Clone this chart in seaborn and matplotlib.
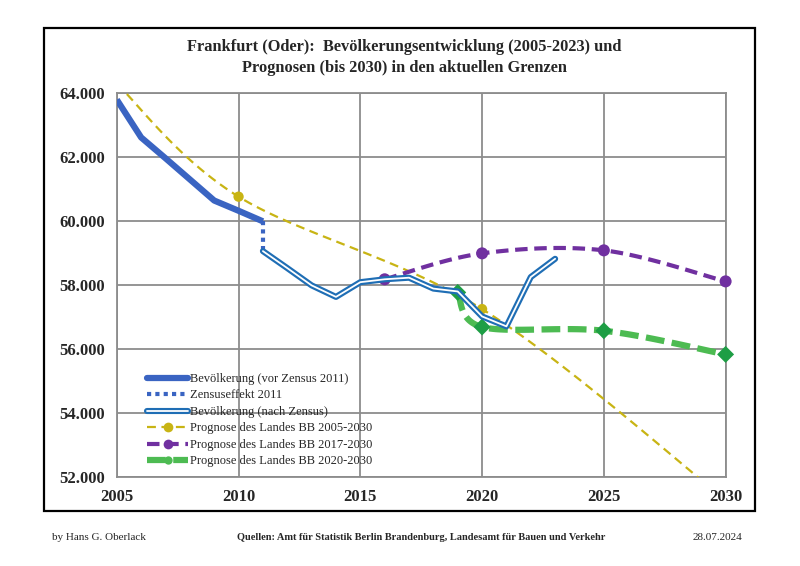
import numpy as np
import pandas as pd
import matplotlib
matplotlib.use("Agg")
import matplotlib.pyplot as plt
import seaborn as sns
from matplotlib.lines import Line2D
from matplotlib.patches import Rectangle
import matplotlib.patheffects as pe
from matplotlib.ticker import FuncFormatter, MultipleLocator

# ---------------- data ----------------
years_vor = [2005, 2006, 2007, 2008, 2009, 2010, 2011]
pop_vor = [63800, 62620, 61970, 61310, 60650, 60330, 60000]

zensus_years = [2011, 2011]
zensus_pop = [60000, 59070]

years_nach = [2011, 2012, 2013, 2014, 2015, 2016, 2017, 2018, 2019, 2020, 2021, 2022, 2023]
pop_nach = [59070, 58540, 58000, 57640, 58100, 58190, 58240, 57900, 57810, 57030, 56720, 58260, 58830]

prog05_years = [2005, 2010, 2020, 2030]
prog05_pop = [64300, 60771, 57260, 51300]

prog17_years = [2016, 2020, 2025, 2030]
prog17_pop = [58190, 59000, 59094, 58125]

prog20_years = [2019, 2020, 2025, 2030]
prog20_pop = [57780, 56700, 56583, 55844]

labels = [
    "Bevölkerung (vor Zensus 2011)",
    "Zensuseffekt 2011",
    "Bevölkerung (nach Zensus)",
    "Prognose des Landes BB 2005-2030",
    "Prognose des Landes BB 2017-2030",
    "Prognose des Landes BB 2020-2030",
]
x_ticks = [2005, 2010, 2015, 2020, 2025, 2030]

title = ("Frankfurt (Oder):  Bevölkerungsentwicklung (2005-2023) und\n"
         "Prognosen (bis 2030) in den aktuellen Grenzen")
footer_left = "by Hans G. Oberlack"
footer_mid = "Quellen: Amt für Statistik Berlin Brandenburg, Landesamt für Bauen und Verkehr"
footer_right = "28.07.2024"

# colours
c_blue = "#3A64C2"
c_nach = "#1F6EB5"
c_yellow = "#C8B414"
c_purple = "#7030A0"
c_green = "#4DBB52"
c_green_m = "#1E9E45"
c_grid = "#8C8C8C"


def excel_smooth(xs, ys, n=40):
    """Smoothed line drawing (Bezier through the points, as spreadsheet 'smoothed line')."""
    P = np.column_stack([xs, ys]).astype(float)
    out = [P[0]]
    t = np.linspace(0, 1, n)[1:, None]
    for i in range(len(P) - 1):
        p0 = P[i - 1] if i > 0 else P[i]
        p1, p2 = P[i], P[i + 1]
        p3 = P[i + 2] if i + 2 < len(P) else P[i + 1]
        c1 = p1 + (p2 - p0) / 6
        c2 = p2 - (p3 - p1) / 6
        seg = (1 - t) ** 3 * p1 + 3 * (1 - t) ** 2 * t * c1 + 3 * (1 - t) * t ** 2 * c2 + t ** 3 * p2
        out.extend(seg)
    out = np.array(out)
    return pd.DataFrame({"x": out[:, 0], "y": out[:, 1]})


sns.set_style("white")
plt.rcParams["font.family"] = ["Liberation Serif", "DejaVu Serif"]

fig = plt.figure(figsize=(8.0, 5.66), dpi=100)
ax = fig.add_axes([0.146, 0.1564, 0.761, 0.6788])

# outer frame
fig.patches.append(Rectangle((0.055, 0.0972), 0.889, 0.854, transform=fig.transFigure,
                             fill=False, edgecolor="black", linewidth=1.6, zorder=0))

# grid / axes
ax.set_xlim(2005, 2030)
ax.set_ylim(52000, 64000)
ax.yaxis.set_major_locator(MultipleLocator(2000))
ax.set_xticks(x_ticks)
ax.grid(True, color=c_grid, linewidth=1.3)
ax.set_axisbelow(True)
for s in ax.spines.values():
    s.set_color(c_grid)
    s.set_linewidth(1.3)
ax.tick_params(axis="both", direction="inout", length=7, width=1.3, color=c_grid,
               labelsize=12, pad=5)
ax.yaxis.set_major_formatter(FuncFormatter(lambda v, p: f"{v:,.0f}".replace(",", ".")))
for lab in ax.get_xticklabels() + ax.get_yticklabels():
    lab.set_fontweight("bold")

# yellow prognosis 2005-2030
d = excel_smooth(prog05_years, prog05_pop)
ln = sns.lineplot(data=d, x="x", y="y", sort=False, estimator=None, ax=ax, color=c_yellow,
                  linewidth=1.6, zorder=3).lines[-1]
ln.set_dashes([4, 2.5])
sns.scatterplot(x=prog05_years, y=prog05_pop, ax=ax, color=c_yellow, s=55, edgecolor="none", zorder=4)

# purple prognosis 2017-2030
d = excel_smooth(prog17_years, prog17_pop)
ln = sns.lineplot(data=d, x="x", y="y", sort=False, estimator=None, ax=ax, color=c_purple,
                  linewidth=3.0, zorder=3).lines[-1]
ln.set_dashes([3, 1.6])
sc = sns.scatterplot(x=prog17_years, y=prog17_pop, ax=ax, color=c_purple, s=75,
                     edgecolor="none", zorder=4).collections[-1]
sc.set_clip_on(False)

# green prognosis 2020-2030
d = excel_smooth(prog20_years, prog20_pop)
ln = sns.lineplot(data=d, x="x", y="y", sort=False, estimator=None, ax=ax, color=c_green,
                  linewidth=4.5, zorder=3).lines[-1]
ln.set_dashes([3, 1.2])
sc = sns.scatterplot(x=prog20_years, y=prog20_pop, ax=ax, color=c_green_m, marker="D", s=75,
                     edgecolor="none", zorder=4).collections[-1]
sc.set_clip_on(False)

# population before census
sns.lineplot(x=years_vor, y=pop_vor, ax=ax, color=c_blue, linewidth=4.5, zorder=5,
             solid_capstyle="butt")
# census effect
ln = sns.lineplot(x=zensus_years, y=zensus_pop, ax=ax, color=c_blue, linewidth=3.0,
                  zorder=5, estimator=None, sort=False).lines[-1]
ln.set_dashes([1, 1])
# population after census (double line)
dn = pd.DataFrame({"x": years_nach, "y": pop_nach})
ln = sns.lineplot(data=dn, x="x", y="y", ax=ax, color="white", linewidth=1.3, zorder=6).lines[-1]
ln.set_path_effects([pe.Stroke(linewidth=4.4, foreground=c_nach), pe.Normal()])

ax.set_xlabel("")
ax.set_ylabel("")

# legend
handles = [
    Line2D([], [], color=c_blue, linewidth=4.5, solid_capstyle="round"),
    Line2D([], [], color=c_blue, linewidth=3.0, dashes=[1, 1]),
    Line2D([], [], color="white", linewidth=1.3,
           path_effects=[pe.Stroke(linewidth=4.4, foreground=c_nach), pe.Normal()]),
    Line2D([], [], color=c_yellow, linewidth=1.6, dashes=[4, 2.5], marker="o", markersize=7,
           markeredgecolor="none"),
    Line2D([], [], color=c_purple, linewidth=3.0, dashes=[3, 1.6], marker="o", markersize=7,
           markeredgecolor="none"),
    Line2D([], [], color=c_green, linewidth=4.5, dashes=[3, 1.2], marker="o", markersize=6,
           markeredgecolor="none", markerfacecolor=c_green),
]
leg = ax.legend(handles, labels, loc="upper left", bbox_to_anchor=(0.05, 0.272),
                frameon=False, fontsize=9, handlelength=3.3, handletextpad=0.15,
                labelspacing=0.36, borderpad=0, borderaxespad=0)

# title and footer
fig.text(0.505, 0.898, title, ha="center", va="center", fontsize=11.8, fontweight="bold",
         linespacing=1.38)
fig.text(0.065, 0.051, footer_left, ha="left", va="center", fontsize=8)
fig.text(0.527, 0.051, footer_mid, ha="center", va="center", fontsize=7.5, fontweight="bold")
fig.text(0.928, 0.051, footer_right, ha="right", va="center", fontsize=8)

fig.savefig("out.png", dpi=100)
